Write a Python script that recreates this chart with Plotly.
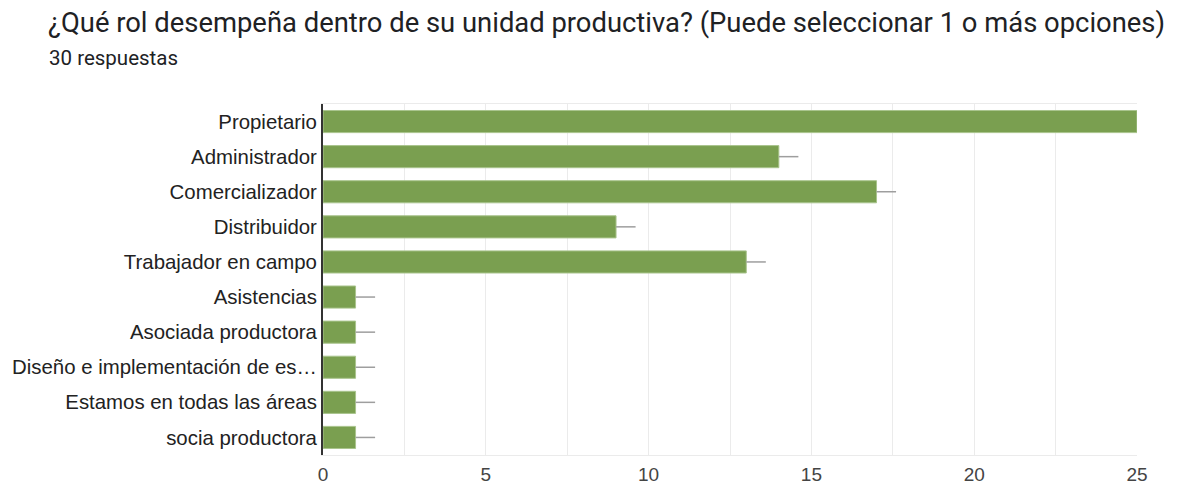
import plotly.graph_objects as go

categories = ["Propietario", "Administrador", "Comercializador", "Distribuidor",
              "Trabajador en campo", "Asistencias", "Asociada productora",
              "Diseño e implementación de es…", "Estamos en todas las áreas",
              "socia productora"]
values = [25, 14, 17, 9, 13, 1, 1, 1, 1, 1]
x_ticks = [0, 5, 10, 15, 20, 25]

whisker = [0.6] * len(values)

L, R, T, B = 323, 43, 104, 31
PW, PH = 1180 - L - R, 486 - T - B

fig = go.Figure()
fig.add_trace(go.Bar(
    y=categories, x=values, orientation="h",
    marker=dict(color="#7a9f50", line=dict(color="#a9c48d", width=1)),
    error_x=dict(type="data", symmetric=False, array=whisker,
                 arrayminus=[0] * len(values), color="#9e9e9e",
                 thickness=1.5, width=0),
    cliponaxis=True,
))

fig.update_layout(
    width=1180, height=486,
    margin=dict(l=L, r=R, t=T, b=B),
    paper_bgcolor="white", plot_bgcolor="white",
    bargap=0.37,
    showlegend=False,
    annotations=[
        dict(text="¿Qué rol desempeña dentro de su unidad productiva? (Puede seleccionar 1 o más opciones)",
             xref="paper", yref="paper", x=-(L - 46) / PW, y=1 + (T - 23) / PH,
             xanchor="left", yanchor="middle", showarrow=False,
             font=dict(family="Roboto", size=27.4, color="#202124")),
        dict(text="30 respuestas",
             xref="paper", yref="paper", x=-(L - 47) / PW, y=1 + (T - 58) / PH,
             xanchor="left", yanchor="middle", showarrow=False,
             font=dict(family="Roboto", size=20.5, color="#202124")),
    ],
)

fig.update_xaxes(
    range=[0, 25], tickvals=x_ticks, ticktext=[str(v) for v in x_ticks],
    showgrid=True, gridcolor="#ebebeb", gridwidth=1,
    minor=dict(dtick=2.5, showgrid=True, gridcolor="#ebebeb", gridwidth=1),
    zeroline=False, showline=True, linecolor="#ebebeb", linewidth=1, mirror=True,
    ticks="", tickfont=dict(family="Liberation Sans", size=19, color="#444444"),
    ticklabelstandoff=2, automargin=False,
)
fig.update_yaxes(
    autorange="reversed", showgrid=False, zeroline=False,
    showline=True, linecolor="#333333", linewidth=2,
    ticks="", tickfont=dict(family="Liberation Sans", size=20.4, color="#222222"),
    ticklabelstandoff=0, automargin=False,
)

fig.write_html("out.html", config={"displayModeBar": False},
               post_script="document.body.style.margin='0';document.body.style.padding='0';")
